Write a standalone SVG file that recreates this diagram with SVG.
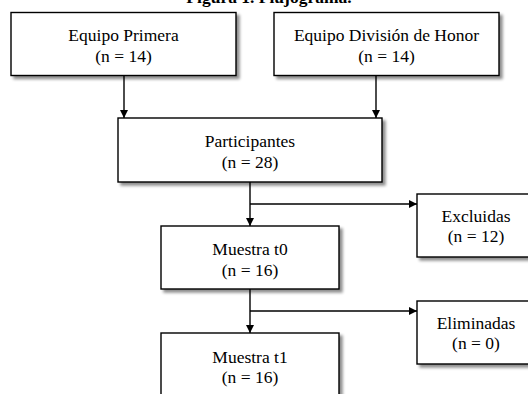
<svg xmlns="http://www.w3.org/2000/svg" width="528" height="394" viewBox="0 0 528 394">
<style>
.box{fill:#fff;stroke:#000;stroke-width:1.4;filter:url(#sh)}
.t{font-family:"Liberation Serif","Times New Roman",serif;font-size:17.5px;fill:#000;text-anchor:middle}
.title{font-family:"Liberation Serif","Times New Roman",serif;font-size:17.5px;font-weight:bold;fill:#000;text-anchor:middle}
.ln{fill:none;stroke:#000;stroke-width:1.4}
</style>
<defs>
<filter id="sh" x="-10%" y="-10%" width="130%" height="140%">
<feGaussianBlur in="SourceAlpha" stdDeviation="1.6"/>
<feOffset dx="3" dy="3" result="b"/>
<feComponentTransfer><feFuncA type="linear" slope="0.45"/></feComponentTransfer>
<feMerge><feMergeNode/><feMergeNode in="SourceGraphic"/></feMerge>
</filter>
<marker id="ah" markerWidth="8" markerHeight="8" refX="8" refY="4" orient="auto" markerUnits="userSpaceOnUse">
<path d="M0,0 L8,4 L0,8 Z" fill="#000"/>
</marker>
</defs>
<text class="title" x="269" y="3">Figura 1. Flujograma.</text>
<g id="connectors">
<path class="ln" d="M124,75.5 V118" marker-end="url(#ah)"/>
<path class="ln" d="M376,75.5 V118" marker-end="url(#ah)"/>
<path class="ln" d="M250,182 V226" marker-end="url(#ah)"/>
<path class="ln" d="M250,204 H417" marker-end="url(#ah)"/>
<path class="ln" d="M250,289 V333" marker-end="url(#ah)"/>
<path class="ln" d="M250,311 H417" marker-end="url(#ah)"/>
</g>
<g id="n1"><rect class="box" x="11" y="12.5" width="225" height="63"/><text class="t" x="123.5" y="41">Equipo Primera</text><text class="t" x="123.5" y="62">(n = 14)</text></g>
<g id="n2"><rect class="box" x="274" y="12.5" width="225" height="63"/><text class="t" x="386.5" y="41">Equipo División de Honor</text><text class="t" x="386.5" y="62">(n = 14)</text></g>
<g id="n3"><rect class="box" x="118" y="118" width="264" height="64"/><text class="t" x="250" y="147">Participantes</text><text class="t" x="250" y="168">(n = 28)</text></g>
<g id="n4"><rect class="box" x="161" y="226" width="178" height="63"/><text class="t" x="250" y="255">Muestra t0</text><text class="t" x="250" y="275.5">(n = 16)</text></g>
<g id="n5"><rect class="box" x="417" y="194" width="120" height="63"/><text class="t" x="476" y="222">Excluidas</text><text class="t" x="476" y="242">(n = 12)</text></g>
<g id="n6"><rect class="box" x="161" y="333" width="178" height="70"/><text class="t" x="250" y="362.5">Muestra t1</text><text class="t" x="250" y="383">(n = 16)</text></g>
<g id="n7"><rect class="box" x="417" y="301" width="120" height="63"/><text class="t" x="476" y="328.5">Eliminadas</text><text class="t" x="476" y="348.5">(n = 0)</text></g>
</svg>
